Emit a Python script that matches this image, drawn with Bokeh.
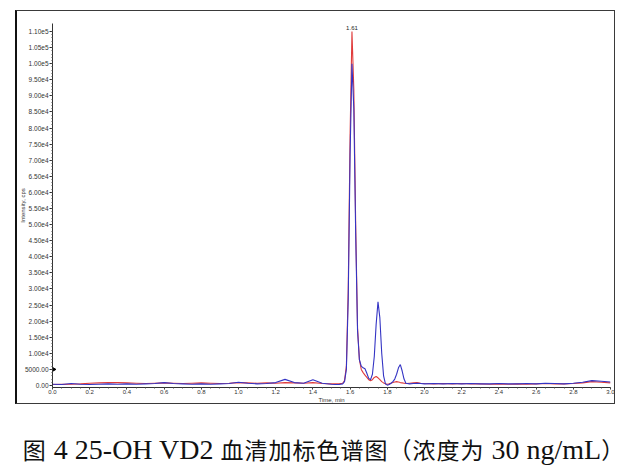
from bokeh.plotting import figure
from bokeh.models import FixedTicker, Label, Range1d, Div
from bokeh.layouts import column
from bokeh.embed import file_html
from bokeh.resources import INLINE

# ---- data ----
time = [0.00, 0.05, 0.10, 0.15, 0.20, 0.25, 0.30, 0.35, 0.40, 0.45,
        0.50, 0.55, 0.60, 0.65, 0.70, 0.75, 0.80, 0.85, 0.90, 0.95,
        1.00, 1.05, 1.10, 1.15, 1.20, 1.25, 1.30, 1.35, 1.40, 1.45,
        1.50, 1.52, 1.54, 1.56, 1.57, 1.58, 1.59, 1.60, 1.61, 1.62,
        1.63, 1.64, 1.65, 1.66, 1.67, 1.68, 1.69, 1.70, 1.71, 1.72,
        1.73, 1.74, 1.75, 1.76, 1.77, 1.78, 1.79, 1.80, 1.81, 1.82,
        1.83, 1.84, 1.85, 1.86, 1.87, 1.88, 1.89, 1.90, 1.92, 1.94,
        1.96, 1.98, 2.00, 2.05, 2.10, 2.15, 2.20, 2.25, 2.30, 2.35,
        2.40, 2.45, 2.50, 2.55, 2.60, 2.65, 2.70, 2.75, 2.80, 2.85,
        2.90, 2.95, 3.00]

red_cps = [300, 350, 400, 500, 700, 800, 900, 900, 800, 700,
           600, 700, 800, 700, 600, 700, 800, 700, 600, 700,
           900, 800, 700, 800, 700, 900, 800, 700, 900, 600,
           500, 500, 500, 700, 1500, 6000, 30000, 78000, 110000, 92000,
           50000, 18000, 8000, 5000, 4000, 3200, 2500, 1800, 1500, 1800,
           2500, 2800, 2400, 1800, 1200, 800, 500, 400, 500, 700,
           900, 1100, 1200, 1100, 900, 800, 700, 600, 700, 800,
           900, 700, 600, 500, 600, 500, 600, 500, 500, 400,
           500, 400, 500, 400, 500, 600, 500, 500, 600, 800,
           1200, 1000, 800]

blue_cps = [400, 300, 600, 400, 300, 400, 500, 400, 500, 400,
            500, 600, 900, 600, 500, 400, 500, 400, 500, 600,
            1000, 700, 500, 600, 900, 1900, 900, 700, 1800, 700,
            400, 300, 300, 500, 1200, 5000, 27000, 72000, 100000, 86000,
            47000, 17000, 8000, 6000, 5500, 5200, 3800, 2200, 1800, 3500,
            9000, 19000, 26000, 21000, 10000, 3000, 500, 100, 300, 700,
            1200, 2000, 3500, 5500, 6500, 4500, 2000, 700, 500, 600,
            700, 600, 500, 600, 500, 600, 500, 600, 500, 500,
            600, 500, 500, 600, 500, 700, 600, 500, 700, 1000,
            1500, 1300, 1100]

x_ticks = [0.0, 0.2, 0.4, 0.6, 0.8, 1.0, 1.2, 1.4, 1.6, 1.8, 2.0,
           2.2, 2.4, 2.6, 2.8, 3.0]
x_labels = ["0.0", "0.2", "0.4", "0.6", "0.8", "1.0", "1.2", "1.4", "1.6",
            "1.8", "2.0", "2.2", "2.4", "2.6", "2.8", "3.0"]
y_ticks = [0, 5000, 10000, 15000, 20000, 25000, 30000, 35000, 40000, 45000,
           50000, 55000, 60000, 65000, 70000, 75000, 80000, 85000, 90000,
           95000, 100000, 105000, 110000]
y_labels = ["0.00", "5000.00", "1.00e4", "1.50e4", "2.00e4", "2.50e4",
            "3.00e4", "3.50e4", "4.00e4", "4.50e4", "5.00e4", "5.50e4",
            "6.00e4", "6.50e4", "7.00e4", "7.50e4", "8.00e4", "8.50e4",
            "9.00e4", "9.50e4", "1.00e5", "1.05e5", "1.10e5"]

peak_time = 1.61
peak_label = "1.61"
peak_height = 110000
marker_level = 5000
caption_parts = [("图", "cjk"), (" 4 25-OH VD2 ", "lat"), ("血清加标色谱图（浓度为", "cjk"),
                 (" 30 ng/mL", "lat"), ("）", "cjk")]

FONT = "Liberation Sans"

p = figure(frame_width=555, frame_height=362,
           min_border_left=35, min_border_right=7,
           min_border_top=12, min_border_bottom=17,
           x_range=Range1d(0, 3), y_range=Range1d(-625, 112500),
           output_backend="svg", toolbar_location=None,
           styles={"border": "1.5px solid #3a3a3a",
                   "border-left": "2px solid #111111",
                   "margin-left": "15px", "margin-top": "10px"})
p.outline_line_color = None
p.grid.visible = False
p.background_fill_color = "white"
p.border_fill_color = "white"

p.line(time, red_cps, line_color="#e03c3c", line_width=1.1)
p.line(time, blue_cps, line_color="#3434c4", line_width=1.1)

p.scatter([0.0], [marker_level], marker="triangle", angle=-1.5708,
          size=6, fill_color="black", line_color="black")

p.add_layout(Label(x=peak_time, y=peak_height, text=peak_label,
                   text_font=FONT, text_font_size="6px",
                   text_color="#222222", text_align="center",
                   text_baseline="bottom", y_offset=2))

# axes
xa = p.xaxis[0]
xa.ticker = FixedTicker(ticks=x_ticks,
                        minor_ticks=[i * 0.05 for i in range(61)])
xa.major_label_overrides = {t: l for t, l in zip(x_ticks, x_labels)}
ya = p.yaxis[0]
ya.ticker = FixedTicker(ticks=y_ticks,
                        minor_ticks=[i * 1000 for i in range(111)])
ya.major_label_overrides = {t: l for t, l in zip(y_ticks, y_labels)}

for ax in (xa, ya):
    ax.axis_line_color = "#333333"
    ax.major_tick_line_color = "#333333"
    ax.minor_tick_line_color = "#555555"
    ax.major_tick_in = 0
    ax.minor_tick_out = 1
    ax.minor_tick_in = 0
    ax.major_label_text_font = FONT
    ax.major_label_text_color = "#333333"
    ax.major_label_standoff = 1
    ax.axis_label_text_font = FONT
    ax.axis_label_text_font_size = "6px"
    ax.axis_label_text_font_style = "normal"
    ax.axis_label_text_color = "#333333"
    ax.axis_label_standoff = 0

ya.major_tick_out = 3
ya.major_label_text_font_size = "6.5px"
ya.axis_label_standoff = -4
xa.major_tick_out = 2
xa.major_label_text_font_size = "6px"
xa.major_label_standoff = 0

xa.axis_label = "Time, min"
ya.axis_label = "Intensity, cps"

html = ""
for txt, kind in caption_parts:
    if kind == "cjk":
        html += ("<span style=\"font-family:'Noto Sans CJK SC';"
                 "font-size:23px;letter-spacing:1px\">" + txt + "</span>")
    else:
        html += ("<span style=\"font-family:'Liberation Serif';"
                 "font-size:28px;white-space:pre\">" + txt + "</span>")

cap = Div(text=html, width=624, height=40,
          styles={"color": "#111111", "text-align": "center",
                  "white-space": "nowrap", "width": "624px",
                  "margin-top": "26px", "margin-left": "12px"})

layout = column(p, cap)
open("out.html", "w").write(file_html(layout, INLINE))
